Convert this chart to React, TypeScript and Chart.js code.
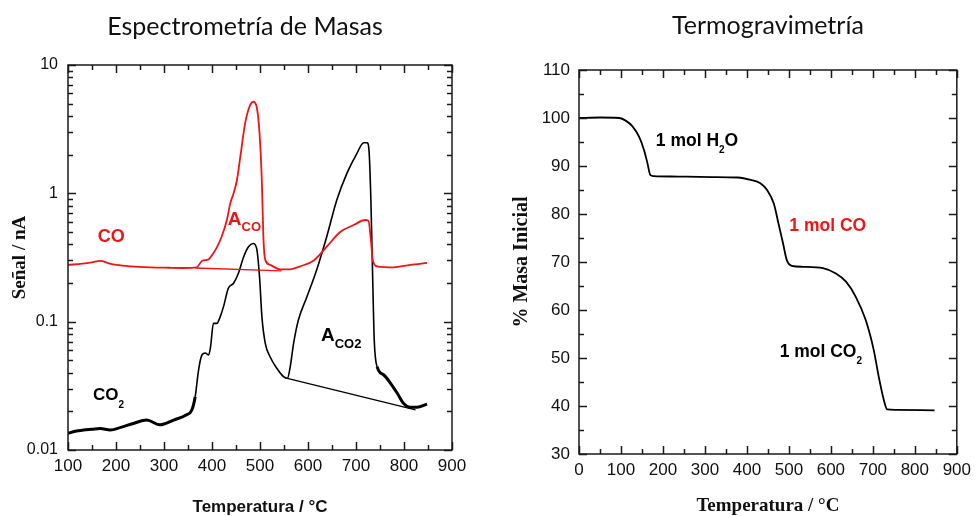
import React, { useEffect, useRef } from 'react';
import { Chart, registerables } from 'chart.js';
Chart.register(...registerables);

// ---------- Data: Espectrometría de Masas ----------
const coTemp = [100, 130, 150, 167, 185, 201, 230, 271, 310, 340, 368, 379, 393, 400, 409, 420, 431, 438, 445, 452, 459, 469, 478, 486, 493, 499, 504, 507, 511, 521, 542, 563, 584, 612, 639, 667, 695, 719, 726, 731, 735, 744, 778, 813, 848];
const coSignal = [0.277, 0.283, 0.29, 0.298, 0.285, 0.277, 0.27, 0.265, 0.263, 0.262, 0.265, 0.297, 0.306, 0.33, 0.372, 0.459, 0.62, 0.835, 1.0, 1.27, 1.93, 3.51, 4.73, 5.17, 4.73, 2.94, 1.2, 0.46, 0.303, 0.277, 0.256, 0.256, 0.27, 0.3, 0.384, 0.5, 0.566, 0.62, 0.61, 0.433, 0.3, 0.27, 0.265, 0.277, 0.287];

const co2Temp = [100, 115, 132, 150, 167, 188, 210, 236, 264, 292, 320, 347, 358, 365, 372, 379, 386, 393, 397, 403, 410, 417, 424, 434, 445, 455, 466, 476, 486, 493, 499, 504, 511, 521, 535, 549, 557, 563, 570, 580, 598, 618, 639, 660, 681, 702, 716, 723, 727, 731, 735, 738, 744, 758, 772, 786, 799, 813, 827, 848];
const co2Signal = [0.0135, 0.014, 0.0143, 0.0145, 0.0147, 0.0143, 0.015, 0.0161, 0.0171, 0.0157, 0.0171, 0.0188, 0.0205, 0.026, 0.042, 0.055, 0.057, 0.055, 0.0638, 0.097, 0.097, 0.109, 0.131, 0.182, 0.199, 0.238, 0.321, 0.384, 0.407, 0.372, 0.224, 0.109, 0.0678, 0.0533, 0.0433, 0.0373, 0.0362, 0.0446, 0.0678, 0.103, 0.157, 0.253, 0.459, 0.887, 1.43, 2.05, 2.48, 2.48, 2.18, 0.887, 0.199, 0.072, 0.0446, 0.0384, 0.0331, 0.0277, 0.0231, 0.0215, 0.0215, 0.0228];

const coBaseTemp = [365, 545];
const coBaseSignal = [0.262, 0.249];
const co2BaseTemp = [557, 824];
const co2BaseSignal = [0.0362, 0.0205];

const msXTicks = [100, 200, 300, 400, 500, 600, 700, 800, 900];
const msYTicks = [0.01, 0.1, 1, 10];

// ---------- Data: Termogravimetría ----------
const tgaTemp = [0, 50, 96, 112, 127, 143, 155, 163, 170, 178, 237, 315, 378, 409, 432, 448, 464, 475, 486, 495, 507, 534, 581, 612, 636, 659, 683, 702, 714, 726, 734, 753, 847];
const tgaMass = [100, 100.1, 100, 99.4, 98.3, 96.1, 93.3, 90.6, 88.1, 87.9, 87.8, 87.7, 87.6, 87.1, 86.4, 85.0, 82.2, 78.1, 73.9, 70.4, 69.2, 69.0, 68.7, 67.6, 65.9, 62.8, 57.9, 51.7, 46.1, 41.3, 39.3, 39.2, 39.1];

const tgXTicks = [0, 100, 200, 300, 400, 500, 600, 700, 800, 900];
const tgYTicks = [30, 40, 50, 60, 70, 80, 90, 100, 110];

const RED = '#f01414';
const SANS = '"Liberation Sans", Arial, sans-serif';
const SERIF = '"Liberation Serif", "Times New Roman", serif';
const TITLE_FONT = 'Lato, "Open Sans", sans-serif';

// annotations (anchored in data coordinates)
const msNotes = [
  { x: 162, y: 0.456, color: RED, size: 18, subSize: 13, subDy: 7.5, parts: [{ t: 'CO' }] },
  { x: 433, y: 0.619, color: RED, size: 19, subSize: 13, subDy: 7.5, parts: [{ t: 'A' }, { t: 'CO', sub: true }] },
  { x: 152, y: 0.0268, color: '#000', size: 17, subSize: 10, subDy: 10, parts: [{ t: 'CO' }, { t: '2', sub: true }] },
  { x: 627, y: 0.0773, color: '#000', size: 19, subSize: 13, subDy: 8, parts: [{ t: 'A' }, { t: 'CO2', sub: true }] },
];
const tgNotes = [
  { x: 183, y: 95.2, color: '#000', size: 17.5, subSize: 10, subDy: 9, parts: [{ t: '1 mol H' }, { t: '2', sub: true }, { t: 'O' }] },
  { x: 501, y: 77.4, color: RED, size: 17.5, subSize: 10, subDy: 9, parts: [{ t: '1 mol CO' }] },
  { x: 478, y: 51.3, color: '#000', size: 17.5, subSize: 10, subDy: 9, parts: [{ t: '1 mol CO' }, { t: '2', sub: true }] },
];

const notesPlugin = {
  id: 'notes',
  afterDatasetsDraw(chart: any, _a: any, opts: any) {
    const items = (opts && opts.items) || [];
    const { ctx } = chart;
    const xs = chart.scales.x;
    const ys = chart.scales.y;
    ctx.save();
    ctx.textBaseline = 'middle';
    ctx.textAlign = 'left';
    for (const n of items) {
      let px = xs.getPixelForValue(n.x);
      const py = ys.getPixelForValue(n.y);
      ctx.fillStyle = n.color;
      for (const p of n.parts) {
        const size = p.sub ? n.subSize : n.size;
        ctx.font = `bold ${size}px ${SANS}`;
        ctx.fillText(p.t, px, py + (p.sub ? n.subDy : 0));
        px += ctx.measureText(p.t).width;
      }
    }
    ctx.restore();
  },
};

const framePlugin = {
  id: 'frame',
  afterDatasetsDraw(chart: any, _a: any, opts: any) {
    const { ctx, chartArea: a } = chart;
    const xs = chart.scales.x;
    const ys = chart.scales.y;
    const xMaj: number[] = opts.xTicks;
    const yMaj: number[] = opts.yTicks;
    const xMin: number[] = [];
    for (let i = 0; i < xMaj.length - 1; i++) xMin.push((xMaj[i] + xMaj[i + 1]) / 2);
    const yMin: number[] = [];
    for (let i = 0; i < yMaj.length - 1; i++) {
      if (opts.logY) {
        for (let k = 2; k <= 9; k++) yMin.push(yMaj[i] * k);
      } else {
        yMin.push((yMaj[i] + yMaj[i + 1]) / 2);
      }
    }
    ctx.save();
    ctx.strokeStyle = '#1a1a1a';
    ctx.lineWidth = 1.5;
    ctx.beginPath();
    const seg = (x1: number, y1: number, x2: number, y2: number) => {
      ctx.moveTo(x1, y1);
      ctx.lineTo(x2, y2);
    };
    const doX = (vals: number[], len: number) => {
      for (const v of vals) {
        const p = Math.round(xs.getPixelForValue(v)) + 0.5;
        seg(p, a.bottom, p, a.bottom - len);
        seg(p, a.top, p, a.top + len);
      }
    };
    const doY = (vals: number[], len: number) => {
      for (const v of vals) {
        const p = Math.round(ys.getPixelForValue(v)) + 0.5;
        seg(a.left, p, a.left + len, p);
        seg(a.right, p, a.right - len, p);
      }
    };
    doX(xMaj, 8);
    doX(xMin, 5);
    doY(yMaj, 8);
    doY(yMin, 5);
    ctx.stroke();
    ctx.strokeRect(a.left, a.top, a.right - a.left, a.bottom - a.top);
    ctx.restore();
  },
};

const pts = (xs: number[], ys: number[]) => xs.map((x, i) => ({ x, y: ys[i] }));

function tickFont(size: number) {
  return { family: SANS, size, weight: 'normal' as const };
}

function MSChart() {
  const ref = useRef<HTMLCanvasElement | null>(null);
  useEffect(() => {
    if (!ref.current) return;
    const chart = new Chart(ref.current, {
      type: 'line',
      data: {
        datasets: [
          {
            data: pts(coTemp, coSignal),
            borderColor: RED,
            borderWidth: 1.8,
            pointRadius: 0,
            cubicInterpolationMode: 'monotone',
          },
          {
            data: pts(coBaseTemp, coBaseSignal),
            borderColor: RED,
            borderWidth: 1.3,
            pointRadius: 0,
          },
          {
            data: pts(co2Temp, co2Signal),
            borderColor: '#000',
            borderWidth: 1.6,
            pointRadius: 0,
            cubicInterpolationMode: 'monotone',
            segment: {
              borderWidth: (c: any) => (c.p0.parsed.x < 360 || c.p0.parsed.x >= 744 ? 3 : 1.6),
            },
          },
          {
            data: pts(co2BaseTemp, co2BaseSignal),
            borderColor: '#000',
            borderWidth: 1.3,
            pointRadius: 0,
          },
        ],
      } as any,
      options: {
        responsive: false,
        animation: false,
        layout: { padding: 0 },
        plugins: {
          legend: { display: false },
          tooltip: { enabled: false },
          title: {
            display: true,
            text: 'Espectrometría de Masas',
            fullSize: true,
            color: '#111',
            font: { family: TITLE_FONT, size: 25, weight: 'normal', lineHeight: 1.2 },
            padding: { top: 11.5, bottom: 23.5 },
          },
          notes: { items: msNotes },
          frame: { xTicks: msXTicks, yTicks: msYTicks, logY: true },
        } as any,
        scales: {
          x: {
            type: 'linear',
            min: 100,
            max: 900,
            afterBuildTicks: (s: any) => {
              s.ticks = msXTicks.map((v) => ({ value: v }));
            },
            ticks: { font: tickFont(17), color: '#111', padding: 6, maxRotation: 0, autoSkip: false },
            grid: { display: false, drawTicks: false },
            border: { display: false },
            title: {
              display: true,
              text: 'Temperatura / °C',
              color: '#111',
              font: { family: SANS, size: 17, weight: 'bold', lineHeight: 1 },
              padding: { top: 0, bottom: 0 },
            },
            afterFit: (s: any) => {
              s.height = 66;
            },
          },
          y: {
            type: 'logarithmic',
            min: 0.01,
            max: 10,
            afterBuildTicks: (s: any) => {
              s.ticks = msYTicks.map((v) => ({ value: v }));
            },
            ticks: { font: tickFont(16), color: '#111', padding: 10, autoSkip: false, callback: (v: any) => String(v) },
            grid: { display: false, drawTicks: false },
            border: { display: false },
            title: {
              display: true,
              text: 'Señal / nA',
              color: '#111',
              font: { family: SERIF, size: 19, weight: 'bold', lineHeight: 1.2 },
              padding: { top: 9, bottom: 0 },
            },
            afterFit: (s: any) => {
              s.width = 68;
            },
          },
          yR: {
            type: 'linear',
            position: 'right',
            display: true,
            min: 0,
            max: 1,
            ticks: { display: false },
            grid: { display: false, drawTicks: false },
            border: { display: false },
            afterFit: (s: any) => {
              s.width = 38;
            },
          },
        },
      } as any,
      plugins: [framePlugin, notesPlugin],
    });
    return () => chart.destroy();
  }, []);
  return <canvas ref={ref} width={490} height={516} style={{ position: 'absolute', left: 0, top: 0 }} />;
}

function TGChart() {
  const ref = useRef<HTMLCanvasElement | null>(null);
  useEffect(() => {
    if (!ref.current) return;
    const chart = new Chart(ref.current, {
      type: 'line',
      data: {
        datasets: [
          {
            data: pts(tgaTemp, tgaMass),
            borderColor: '#000',
            borderWidth: 1.8,
            pointRadius: 0,
            cubicInterpolationMode: 'monotone',
          },
        ],
      } as any,
      options: {
        responsive: false,
        animation: false,
        layout: { padding: { left: 0, right: 14, top: 0, bottom: 0 } },
        plugins: {
          legend: { display: false },
          tooltip: { enabled: false },
          title: {
            display: true,
            text: 'Termogravimetría',
            fullSize: false,
            color: '#111',
            font: { family: TITLE_FONT, size: 25, weight: 'normal', lineHeight: 1.2 },
            padding: { top: 10.5, bottom: 29.5 },
          },
          notes: { items: tgNotes },
          frame: { xTicks: tgXTicks, yTicks: tgYTicks, logY: false },
        } as any,
        scales: {
          x: {
            type: 'linear',
            min: 0,
            max: 900,
            afterBuildTicks: (s: any) => {
              s.ticks = tgXTicks.map((v) => ({ value: v }));
            },
            ticks: { font: tickFont(17), color: '#111', padding: 6, maxRotation: 0, autoSkip: false },
            grid: { display: false, drawTicks: false },
            border: { display: false },
            title: {
              display: true,
              text: 'Temperatura / °C',
              color: '#111',
              font: { family: SERIF, size: 19, weight: 'bold', lineHeight: 1 },
              padding: { top: 0, bottom: 0 },
            },
            afterFit: (s: any) => {
              s.height = 62;
            },
          },
          y: {
            type: 'linear',
            min: 30,
            max: 110,
            afterBuildTicks: (s: any) => {
              s.ticks = tgYTicks.map((v) => ({ value: v }));
            },
            ticks: { font: tickFont(17), color: '#111', padding: 9, autoSkip: false },
            grid: { display: false, drawTicks: false },
            border: { display: false },
            title: {
              display: true,
              text: '% Masa Inicial',
              color: '#111',
              font: { family: SERIF, size: 20, weight: 'bold', lineHeight: 1.2 },
              padding: { top: 20, bottom: 0 },
            },
            afterFit: (s: any) => {
              s.width = 89;
            },
          },
        },
      } as any,
      plugins: [framePlugin, notesPlugin],
    });
    return () => chart.destroy();
  }, []);
  return <canvas ref={ref} width={487} height={516} style={{ position: 'absolute', left: 490, top: 0 }} />;
}

export default function App() {
  return (
    <div style={{ position: 'absolute', left: 0, top: 0, width: 977, height: 516, background: '#fff', overflow: 'hidden' }}>
      <MSChart />
      <TGChart />
    </div>
  );
}
